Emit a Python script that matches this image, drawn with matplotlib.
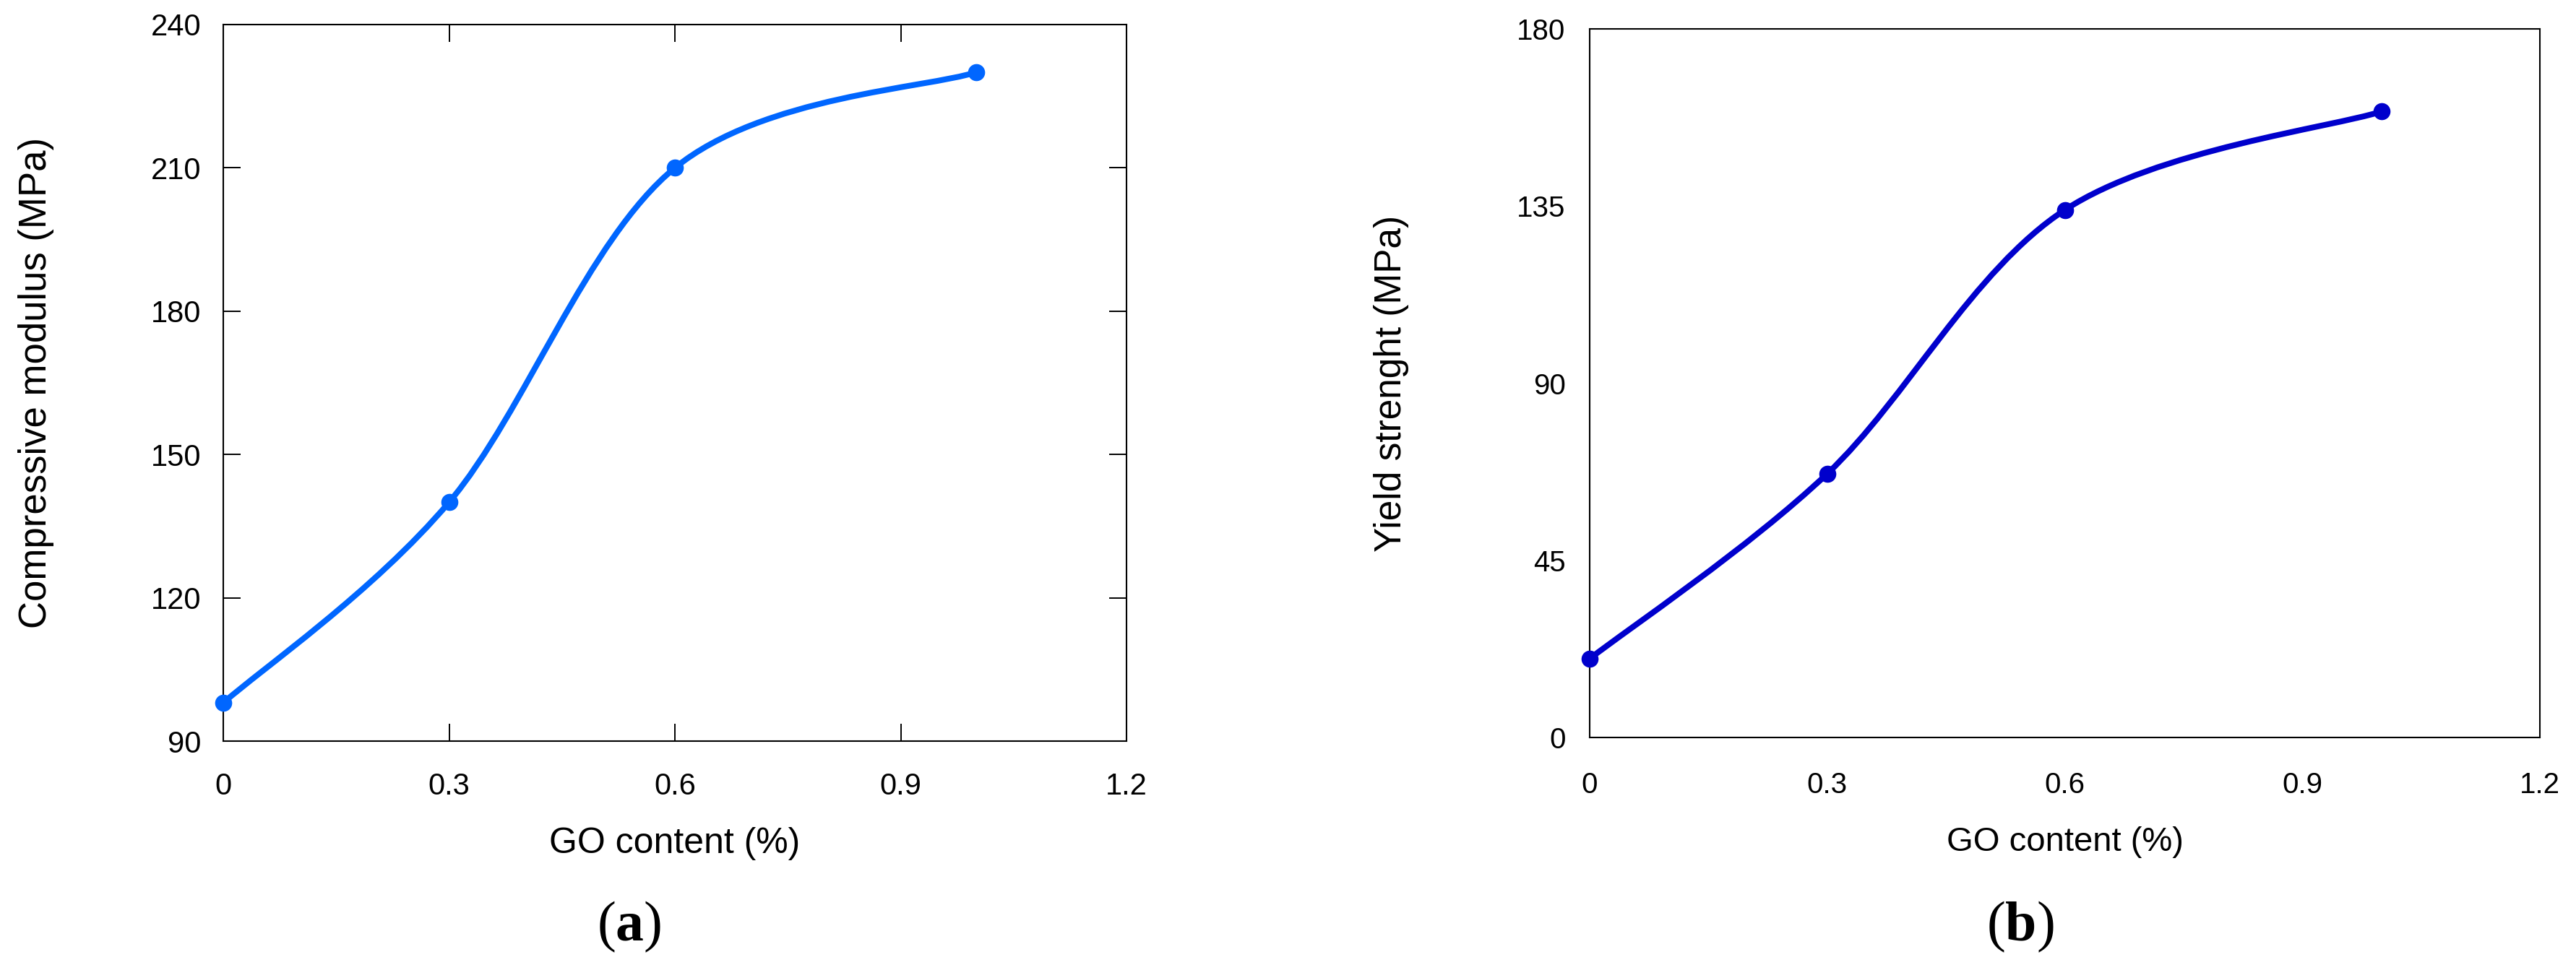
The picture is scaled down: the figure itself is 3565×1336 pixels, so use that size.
import matplotlib
matplotlib.use("Agg")
import matplotlib.pyplot as plt
from matplotlib.path import Path
from matplotlib.patches import PathPatch
import numpy as np

# ---------------- data ----------------
go_content = [0.0, 0.3, 0.6, 1.0]
compressive_modulus = [98, 140, 210, 230]
yield_strength = [20, 67, 134, 159]

xticks = [0, 0.3, 0.6, 0.9, 1.2]
xtick_labels = ["0", "0.3", "0.6", "0.9", "1.2"]
yticks_a = [90, 120, 150, 180, 210, 240]
yticks_b = [0, 45, 90, 135, 180]

xlabel = "GO content (%)"
ylabel_a = "Compressive modulus (MPa)"
ylabel_b = "Yield strenght (MPa)"

color_a = "#0066FF"
color_b = "#0000CC"

plt.rcParams['font.family'] = ['Liberation Sans', 'DejaVu Sans']
plt.rcParams['mathtext.fontset'] = 'custom'
plt.rcParams['mathtext.rm'] = 'Liberation Serif'
plt.rcParams['mathtext.bf'] = 'Liberation Serif:bold'

W, H = 3565, 1336
fig = plt.figure(figsize=(W / 100, H / 100), dpi=100)


def smooth_path(xs, ys):
    """Excel-style smoothed line: cubic Bezier segments (Catmull-Rom, 1/6)."""
    pts = np.column_stack([xs, ys]).astype(float)
    n = len(pts)
    verts = [pts[0]]
    codes = [Path.MOVETO]
    for i in range(n - 1):
        p0 = pts[i - 1] if i > 0 else pts[i]
        p1 = pts[i]
        p2 = pts[i + 1]
        p3 = pts[i + 2] if i + 2 < n else pts[i + 1]
        c1 = p1 + (p2 - p0) / 6.0
        c2 = p2 - (p3 - p1) / 6.0
        verts += [c1, c2, p2]
        codes += [Path.CURVE4] * 3
    return Path(verts, codes)


def make_panel(rect, ys, color, yticks, ylabel, ticks_visible, tick_fs,
               xlabel_fs, ylabel_fs, xpad, ypad, ylab_x, xlab_y):
    ax = fig.add_axes(rect)
    ax.set_xlim(0, 1.2)
    ax.set_ylim(yticks[0], yticks[-1])
    ax.set_xticks(xticks)
    ax.set_xticklabels(xtick_labels)
    ax.set_yticks(yticks)
    ax.set_yticklabels([str(v) for v in yticks])
    for s in ax.spines.values():
        s.set_linewidth(1.5)
        s.set_color("black")
    if ticks_visible:
        ax.tick_params(axis='both', which='both', direction='in', length=17,
                       width=1.4, top=True, right=True, labelsize=tick_fs)
    else:
        ax.tick_params(axis='both', which='both', direction='in', length=0,
                       labelsize=tick_fs)
    ax.tick_params(axis='x', pad=xpad)
    ax.tick_params(axis='y', pad=ypad)

    patch = PathPatch(smooth_path(go_content, ys), facecolor='none',
                      edgecolor=color, lw=5.8, capstyle='round',
                      joinstyle='round', zorder=3)
    ax.add_patch(patch)
    ax.plot(go_content, ys, linestyle='none', marker='o', markersize=16,
            color=color, zorder=4, clip_on=False)

    ax.set_xlabel(xlabel, fontsize=xlabel_fs)
    ax.set_ylabel(ylabel, fontsize=ylabel_fs)
    ax.xaxis.set_label_coords(0.5, xlab_y)
    ax.yaxis.set_label_coords(ylab_x, 0.5)
    return ax


# Panel (a): left 309, right 1559, top 34, bottom 1026 px
rect_a = [309 / W, 1 - 1026 / H, (1559 - 309) / W, (1026 - 34) / H]
# Panel (b): left 2200, right 3515, top 40, bottom 1021 px
rect_b = [2200 / W, 1 - 1021 / H, (3515 - 2200) / W, (1021 - 40) / H]

ax_a = make_panel(rect_a, compressive_modulus, color_a, yticks_a, ylabel_a,
                  True, 30, 36, 38, 31, 22, -0.187, -0.12)
ax_b = make_panel(rect_b, yield_strength, color_b, yticks_b, ylabel_b,
                  False, 29, 34, 37, 34, 24, -0.19, -0.125)

fig.text(871 / W, 1 - 1283 / H, r"($\mathbf{a}$)", ha='center', va='center',
         fontsize=56, family=['Liberation Serif', 'DejaVu Serif'])
fig.text(2796 / W, 1 - 1283 / H, r"($\mathbf{b}$)", ha='center', va='center',
         fontsize=56, family=['Liberation Serif', 'DejaVu Serif'])

fig.savefig("out.png", dpi=100, facecolor='white')
